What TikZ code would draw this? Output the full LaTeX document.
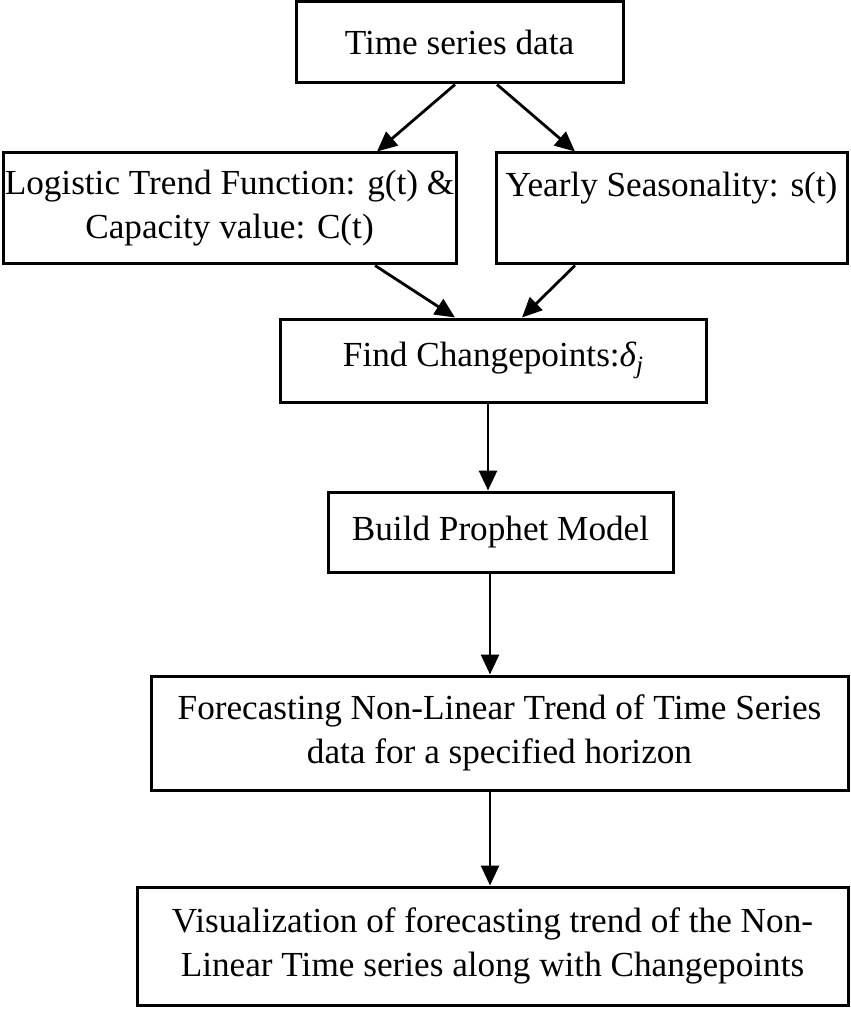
\documentclass[tikz,border=0pt]{standalone}
\usepackage{fontspec}
\setmainfont{Liberation Serif}
\usetikzlibrary{arrows.meta}
\tikzset{
  box/.style={draw=black, line width=1.5pt, fill=white, inner sep=0pt, align=center,
    font=\fontsize{17.6pt}{22pt}\selectfont},
  arr/.style={line width=1.4pt, -{Triangle[length=10pt,width=9pt]}}
}
\begin{document}
\begin{tikzpicture}[x=0.5pt,y=-0.5pt]
\useasboundingbox (0,0) rectangle (850,1010);
\node[box, minimum width=163.5pt, minimum height=40.5pt] (b1) at (459.5,42.5) {Time series data};
\node[box, minimum width=226.5pt, minimum height=55.5pt] (b2) at (229.5,208.5) {Logistic Trend Function: g(t) \&\\Capacity value: C(t)};
\node[box, minimum width=175.5pt, minimum height=55.5pt] (b3) at (671.5,208.5) {Yearly Seasonality: s(t)\\[-4pt]\strut};
\node[box, minimum width=213pt, minimum height=41.5pt] (b4) at (493,360.5) {Find Changepoints:{\itshape δ}\raisebox{-0.45ex}{\fontsize{12.5pt}{12.5pt}\selectfont\itshape j}};
\node[box, minimum width=172.5pt, minimum height=40pt] (b5) at (500.5,532) {Build Prophet Model};
\node[box, minimum width=348.5pt, minimum height=57pt] (b6) at (499.5,733) {Forecasting Non-Linear Trend of Time Series\\data for a specified horizon};
\node[box, minimum width=355.5pt, minimum height=59pt] (b7) at (492.5,946) {Visualization of forecasting trend of the Non-\\Linear Time series along with Changepoints};
\draw[arr] ([xshift=-2.25pt]b1.south) -- ([xshift=73.75pt]b2.north);
\draw[arr] ([xshift=18.75pt]b1.south) -- ([xshift=-48.25pt]b3.north);
\draw[arr] ([xshift=72.75pt]b2.south) -- ([xshift=-19pt]b4.north);
\draw[arr] ([xshift=-48.25pt]b3.south) -- ([xshift=14.5pt]b4.north);
\draw[arr] ([xshift=-2.5pt]b4.south) -- ([xshift=-6.25pt]b5.north);
\draw[arr] ([xshift=-5.25pt]b5.south) -- ([xshift=-4.75pt]b6.north);
\draw[arr] ([xshift=-4.75pt]b6.south) -- ([xshift=-1.25pt]b7.north);
\end{tikzpicture}
\end{document}
